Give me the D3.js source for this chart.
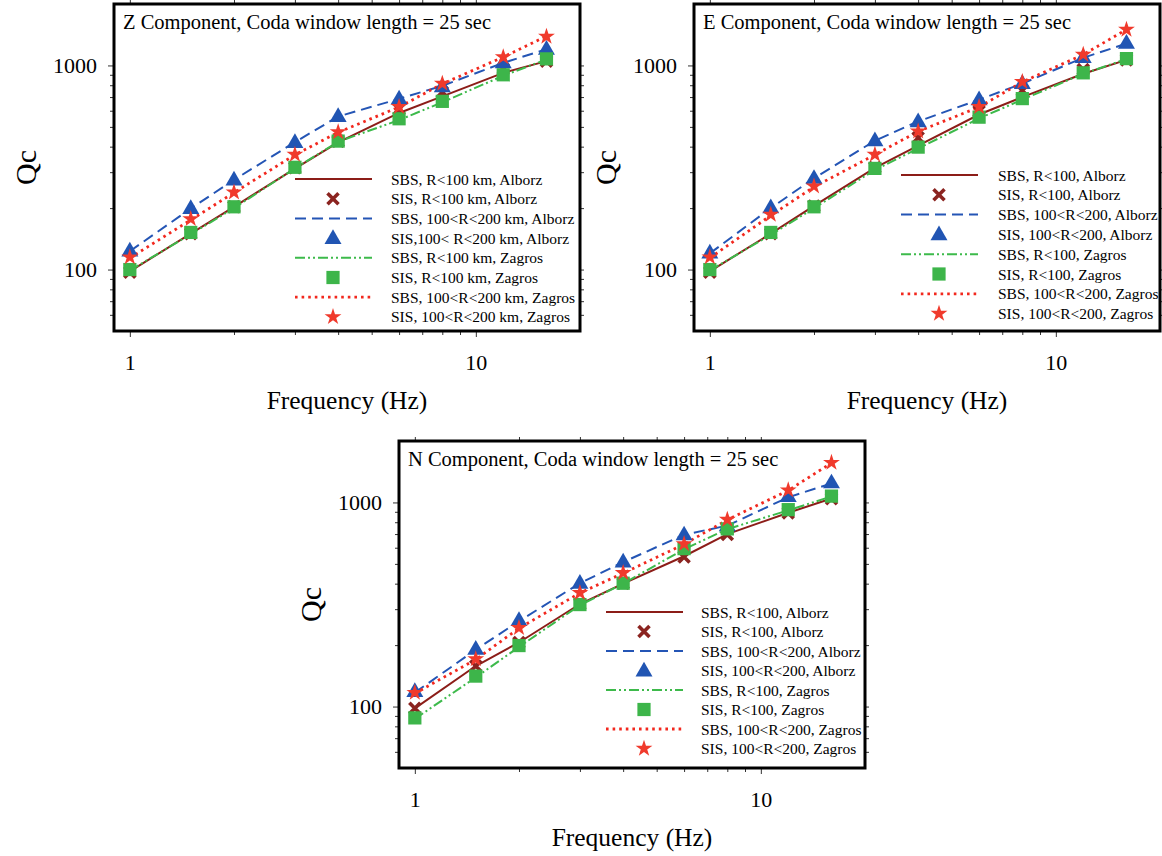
<!DOCTYPE html>
<html>
<head>
<meta charset="utf-8">
<script src="https://cdn.jsdelivr.net/npm/d3@7"></script>
<style>
  body { margin: 0; background: #fff; }
  svg { display: block; font-family: "Liberation Serif", "Times New Roman", serif; }
  .tick text { font-family: "Liberation Serif", "Times New Roman", serif; }
</style>
</head>
<body>
<svg id="chart" width="1162" height="856"></svg>
<script>
// frequencies (Hz) shared by all panels
const freqs = [1, 1.5, 2, 3, 4, 6, 8, 12, 16];
const xTicks = [1, 10];
const yTicks = [100, 1000];
const xMinor = [2, 3, 4, 5, 6, 7, 8, 9];
const yMinor = [60, 70, 80, 90, 200, 300, 400, 500, 600, 700, 800, 900];

// Z component
const zSbsAlb100 = [98, 150, 203, 312, 420, 585, 705, 920, 1050];
const zSisAlb100 = [97, 150, 203, 315, 425, 612, 740, 962, 1050];
const zSbsAlb200 = [123, 199, 275, 421, 562, 686, 795, 1030, 1200];
const zSisAlb200 = [124, 200, 276, 421, 565, 688, 790, 1035, 1205];
const zSbsZag100 = [99, 149, 200, 313, 423, 540, 660, 890, 1070];
const zSisZag100 = [100, 152, 203, 317, 426, 548, 667, 900, 1077];
const zSbsZag200 = [114, 175, 238, 365, 470, 625, 812, 1100, 1390];
const zSisZag200 = [115, 177, 239, 366, 472, 627, 815, 1100, 1385];

// E component
const eSbsAlb100 = [98, 150, 205, 315, 405, 575, 700, 910, 1065];
const eSisAlb100 = [97, 150, 205, 316, 442, 597, 753, 954, 1065];
const eSbsAlb200 = [120, 200, 280, 428, 532, 680, 815, 1090, 1280];
const eSisAlb200 = [121, 202, 281, 430, 533, 682, 820, 1100, 1290];
const eSbsZag100 = [99, 148, 200, 308, 392, 550, 680, 910, 1075];
const eSisZag100 = [100, 152, 203, 313, 398, 558, 688, 920, 1080];
const eSbsZag200 = [114, 184, 254, 365, 475, 625, 830, 1130, 1500];
const eSisZag200 = [115, 186, 256, 366, 476, 627, 832, 1130, 1500];

// N component
const nSbsAlb100 = [98, 158, 206, 318, 400, 545, 700, 890, 1045];
const nSisAlb100 = [98, 158, 206, 318, 402, 541, 697, 889, 1042];
const nSbsAlb200 = [117, 190, 262, 402, 510, 695, 770, 1060, 1240];
const nSisAlb200 = [119, 192, 265, 404, 513, 697, 773, 1074, 1253];
const nSbsZag100 = [87, 139, 196, 314, 400, 590, 740, 915, 1070];
const nSisZag100 = [88, 141, 199, 316, 402, 594, 742, 922, 1074];
const nSbsZag200 = [116, 170, 242, 360, 450, 624, 822, 1145, 1560];
const nSisZag200 = [117, 171, 243, 361, 452, 626, 824, 1149, 1567];

const zLabels = ["SBS, R<100 km, Alborz", "SIS, R<100 km, Alborz", "SBS, 100<R<200 km, Alborz",
  "SIS,100< R<200 km, Alborz", "SBS, R<100 km, Zagros", "SIS, R<100 km, Zagros",
  "SBS, 100<R<200 km, Zagros", "SIS, 100<R<200 km, Zagros"];
const enLabels = ["SBS, R<100, Alborz", "SIS, R<100, Alborz", "SBS, 100<R<200, Alborz",
  "SIS, 100<R<200, Alborz", "SBS, R<100, Zagros", "SIS, R<100, Zagros",
  "SBS, 100<R<200, Zagros", "SIS, 100<R<200, Zagros"];

const svg = d3.select("#chart");
const width = 466, height = 327;

// styles for the four line/marker pairs
const styles = [
  { color: "#8c1d18", mcolor: "#8b2420", dash: null, lw: 2, marker: "x" },
  { color: "#2455b5", mcolor: "#2155b3", dash: "11,6", lw: 2, marker: "tri" },
  { color: "#3dba4b", mcolor: "#3db54a", dash: "10,3,2,3,2,3", lw: 2, marker: "sq" },
  { color: "#f2281e", mcolor: "#f03a2c", dash: "2.6,4", lw: 2.8, marker: "star" }
];

function drawMarker(g, type, cx, cy, st) {
  if (type === "x") {
    const r = 5.5;
    g.append("path")
      .attr("d", `M${cx - r},${cy - r}L${cx + r},${cy + r}M${cx - r},${cy + r}L${cx + r},${cy - r}`)
      .attr("stroke", st.mcolor).attr("stroke-width", 3.6).attr("fill", "none");
  } else {
    let sym;
    if (type === "tri") sym = d3.symbol(d3.symbolTriangle, 125);
    if (type === "sq") sym = d3.symbol(d3.symbolSquare, 175);
    if (type === "star") sym = d3.symbol(d3.symbolStar, 88);
    g.append("path").attr("d", sym())
      .attr("transform", `translate(${cx},${cy + (type === "tri" ? 1 : 0)})`)
      .attr("fill", st.mcolor);
  }
}

function panel(cfg) {
  const g = svg.append("g").attr("transform", `translate(${cfg.left},${cfg.top})`);

  let x = d3.scaleLog().domain([0.9, 20]).range([0, width]);
  let y = d3.scaleLog().domain([50, 2000]).range([height, 0]);

  // axes: labelled ticks on bottom/left, plain ticks on all four sides
  const tickStyle = sel => {
    sel.select(".domain").remove();
    sel.selectAll(".tick line").attr("stroke", "#333").attr("stroke-width", 1);
    sel.selectAll(".tick text").attr("font-size", 22).attr("fill", "#000");
  };
  g.append("g").attr("transform", `translate(0,${height})`)
    .call(d3.axisBottom(x).tickValues(xTicks).tickSize(6).tickPadding(17).tickFormat(d3.format("d")))
    .call(tickStyle);
  g.append("g").attr("transform", `translate(0,${height})`)
    .call(d3.axisBottom(x).tickValues(xMinor).tickSize(4).tickFormat("")).call(tickStyle);
  g.append("g")
    .call(d3.axisTop(x).tickValues(xTicks.concat(xMinor)).tickSize(4).tickFormat("")).call(tickStyle);
  g.append("g")
    .call(d3.axisLeft(y).tickValues(yTicks).tickSize(6).tickPadding(11).tickFormat(d3.format("d")))
    .call(tickStyle);
  g.append("g")
    .call(d3.axisLeft(y).tickValues(yMinor).tickSize(4).tickFormat("")).call(tickStyle);
  g.append("g").attr("transform", `translate(${width},0)`)
    .call(d3.axisRight(y).tickValues(yTicks.concat(yMinor)).tickSize(4).tickFormat("")).call(tickStyle);

  // lines
  const line = d3.line().x((d, i) => x(freqs[i])).y(d => y(d));
  cfg.sbs.forEach((vals, k) => {
    const st = styles[k];
    g.append("path").datum(vals)
      .attr("d", line)
      .attr("fill", "none")
      .attr("stroke", st.color)
      .attr("stroke-width", st.lw)
      .attr("stroke-dasharray", st.dash);
  });

  // markers
  cfg.sis.forEach((vals, k) => {
    const st = styles[k];
    vals.forEach((v, i) => drawMarker(g, st.marker, x(freqs[i]), y(v), st));
  });

  // frame
  g.append("rect").attr("width", width).attr("height", height)
    .attr("fill", "none").attr("stroke", "#000").attr("stroke-width", 3);

  // title
  g.append("text").attr("x", 9).attr("y", 24.5)
    .attr("font-size", 20.5).text(cfg.title);

  // legend
  const lg = g.append("g").attr("transform", `translate(${cfg.legX},${cfg.legY})`);
  cfg.labels.forEach((lab, i) => {
    const yy = i * cfg.legStep;
    const st = styles[Math.floor(i / 2)];
    if (i % 2 === 0) {
      lg.append("line").attr("x1", 0).attr("x2", 77).attr("y1", yy).attr("y2", yy)
        .attr("stroke", st.color).attr("stroke-width", st.lw)
        .attr("stroke-dasharray", st.dash);
    } else {
      drawMarker(lg, st.marker, 38, yy, st);
    }
    lg.append("text").attr("x", cfg.textDx).attr("y", yy + 5.5)
      .attr("font-size", 15.5).text(lab);
  });

  // axis titles
  g.append("text").attr("x", width / 2).attr("y", height + 78)
    .attr("text-anchor", "middle").attr("font-size", 25.5).text("Frequency (Hz)");
  g.append("text")
    .attr("transform", `translate(-78,${height / 2}) rotate(-90)`)
    .attr("text-anchor", "middle").attr("font-size", 30).text("Qc");
}

panel({
  left: 114, top: 4, title: "Z Component, Coda window length = 25 sec",
  sbs: [zSbsAlb100, zSbsAlb200, zSbsZag100, zSbsZag200],
  sis: [zSisAlb100, zSisAlb200, zSisZag100, zSisZag200],
  labels: zLabels, legX: 181, legY: 175, legStep: 19.7, textDx: 96
});
panel({
  left: 694, top: 4, title: "E Component, Coda window length = 25 sec",
  sbs: [eSbsAlb100, eSbsAlb200, eSbsZag100, eSbsZag200],
  sis: [eSisAlb100, eSisAlb200, eSisZag100, eSisZag200],
  labels: enLabels, legX: 207, legY: 171, legStep: 19.8, textDx: 97
});
panel({
  left: 399, top: 441, title: "N Component, Coda window length = 25 sec",
  sbs: [nSbsAlb100, nSbsAlb200, nSbsZag100, nSbsZag200],
  sis: [nSisAlb100, nSisAlb200, nSisZag100, nSisZag200],
  labels: enLabels, legX: 207, legY: 171, legStep: 19.5, textDx: 95
});
</script>
</body>
</html>
